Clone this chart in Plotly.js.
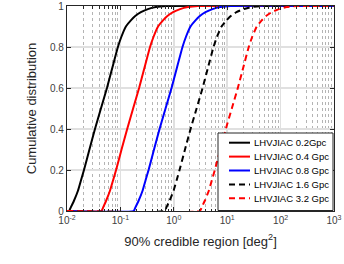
<!DOCTYPE html>
<html><head><meta charset="utf-8">
<script src="https://cdn.plot.ly/plotly-3.0.1.min.js"></script>
<style>html,body{margin:0;padding:0;background:#fff}#c{width:344px;height:264px}</style>
</head><body><div id="c"></div>
<script>
const cdfLevels = [0, 0.02, 0.05, 0.1, 0.15, 0.2, 0.3, 0.4, 0.5, 0.6, 0.7, 0.8, 0.85, 0.9, 0.93, 0.95, 0.97, 0.985, 0.995, 1];
const area02 = [0.0109, 0.0119, 0.0135, 0.0161, 0.0183, 0.0208, 0.0263, 0.0334, 0.0432, 0.056, 0.0708, 0.0898, 0.1044, 0.1267, 0.157, 0.187, 0.242, 0.327, 0.461, 0.708];
const area04 = [0.044, 0.048, 0.054, 0.064, 0.073, 0.083, 0.105, 0.134, 0.173, 0.224, 0.283, 0.359, 0.418, 0.507, 0.628, 0.748, 0.968, 1.31, 1.84, 2.83];
const area08 = [0.177, 0.193, 0.219, 0.261, 0.296, 0.337, 0.426, 0.541, 0.700, 0.907, 1.147, 1.455, 1.691, 2.053, 2.543, 3.029, 3.92, 5.30, 7.47, 11.5];
const area16 = [0.673, 0.734, 0.833, 0.993, 1.13, 1.28, 1.62, 2.06, 2.67, 3.46, 4.37, 5.54, 6.44, 7.82, 9.69, 11.5, 14.9, 20.2, 28.4, 43.7];
const area32 = [3.07, 3.36, 3.81, 4.54, 5.16, 5.87, 7.42, 9.42, 12.2, 15.8, 20.0, 25.3, 29.4, 35.7, 44.3, 52.7, 68.2, 92.2, 130, 200];
const seriesNames = ['LHVJIAC 0.2Gpc', 'LHVJIAC 0.4 Gpc', 'LHVJIAC 0.8 Gpc', 'LHVJIAC 1.6 Gpc', 'LHVJIAC 3.2 Gpc'];
const xTickVals = [0.01, 0.1, 1, 10, 100, 1000];
const xTickText = ['10<sup>-2</sup>', '10<sup>-1</sup>', '10<sup>0</sup>', '10<sup>1</sup>', '10<sup>2</sup>', '10<sup>3</sup>'];
const yTickVals = [0, 0.2, 0.4, 0.6, 0.8, 1];
const yTickText = ['0', '0.2', '0.4', '0.6', '0.8', '1'];

const xMin = 0.01, xMax = 1000;
function ext(arr){ return [xMin].concat(arr, [xMax]); }
function extY(){ return [0].concat(cdfLevels, [1]); }

const allX = [area02, area04, area08, area16, area32];
const colors = ['#000000', '#ff0000', '#0000ff', '#000000', '#ff0000'];
const dashes = ['solid', 'solid', 'solid', '6px,4px', '6px,4px'];
const traces = allX.map((a, i) => ({
  x: ext(a), y: extY(), type: 'scatter', mode: 'lines', name: seriesNames[i], showlegend: false,
  line: {color: colors[i], width: 2, dash: dashes[i], shape: 'spline', smoothing: 0.4}
}));

// custom legend (MATLAB-like compact)
const axColor = '#262626';
const plotL = 67, plotT = 6, plotW = 267, plotH = 205;
const px2x = p => (p - plotL) / plotW;
const py2y = p => (plotT + plotH - p) / plotH;
const shapes = [{type: 'rect', xref: 'paper', yref: 'paper', x0: px2x(218), x1: px2x(333), y0: py2y(210.5), y1: py2y(133),
  fillcolor: '#fff', line: {color: axColor, width: 1}, layer: 'above'}];
const annotations = [];
const rowY = [142.7, 156.6, 170.5, 184.4, 198.3];
seriesNames.forEach((n, i) => {
  shapes.push({type: 'line', xref: 'paper', yref: 'paper', x0: px2x(229), x1: px2x(250), y0: py2y(rowY[i]), y1: py2y(rowY[i]),
    line: {color: colors[i], width: 2, dash: i >= 3 ? '6px,4px' : 'solid'}, layer: 'above'});
  annotations.push({xref: 'paper', yref: 'paper', x: px2x(252), y: py2y(rowY[i]), xanchor: 'left', yanchor: 'middle',
    text: n, showarrow: false, font: {size: 9.5, color: '#000'}});
});

const layout = {
  width: 344, height: 264,
  margin: {l: 67, r: 10, t: 6, b: 53},
  paper_bgcolor: '#fff', plot_bgcolor: '#fff',
  font: {family: 'Liberation Sans, Arial, sans-serif', color: axColor, size: 10},
  xaxis: {
    type: 'log', range: [-2, 3], tickvals: xTickVals, ticktext: xTickText,
    ticks: 'inside', ticklen: 4, tickcolor: axColor, mirror: 'ticks',
    showline: true, linecolor: axColor, linewidth: 1.2,
    showgrid: true, gridcolor: '#e0e0e0', gridwidth: 1.5,
    zeroline: false,
    minor: {ticks: 'inside', ticklen: 2.5, tickcolor: axColor, showgrid: true, gridcolor: '#b4b4b4', griddash: 'dot', gridwidth: 1, dtick: 'D1'},
    tickfont: {size: 10, color: '#404040'},
    title: {text: '90% credible region [deg<sup>2</sup>]', font: {size: 13, color: '#262626'}, standoff: 11}
  },
  yaxis: {
    range: [0, 1], tickvals: yTickVals, ticktext: yTickText,
    ticks: 'inside', ticklen: 4, tickcolor: axColor, mirror: 'ticks',
    showline: true, linecolor: axColor, linewidth: 1.2,
    showgrid: true, gridcolor: '#e0e0e0', gridwidth: 1.5, zeroline: false,
    tickfont: {size: 10, color: '#404040'},
    title: {text: 'Cumulative distribution', font: {size: 13, color: '#262626'}, standoff: 10}
  },
  showlegend: false,
  shapes: shapes,
  annotations: annotations
};
Plotly.newPlot('c', traces, layout, {displayModeBar: false, staticPlot: true});
</script>
</body></html>
